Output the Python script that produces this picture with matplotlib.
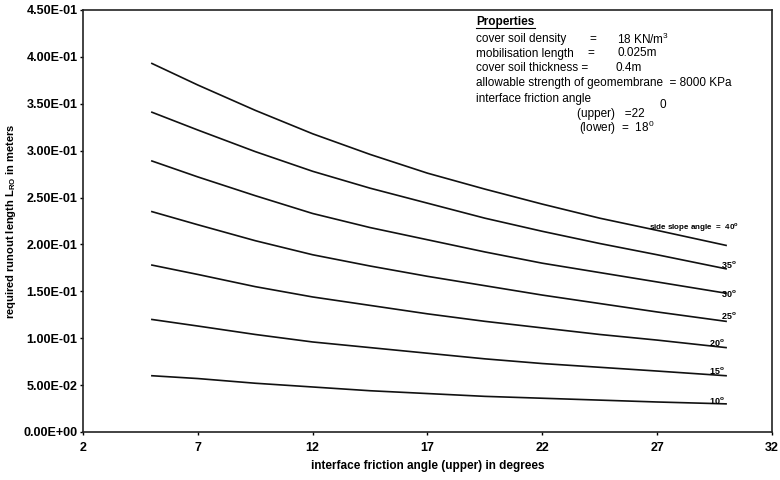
import numpy as np
import matplotlib.pyplot as plt

plt.rcParams['font.family'] = ['Liberation Sans', 'DejaVu Sans']

# interface friction angle (upper), degrees
friction_angle = [5, 7, 9.5, 12, 14.5, 17, 19.5, 22, 24.5, 27, 30]

# required runout length for each side slope angle, meters
runout_40 = [0.393, 0.370, 0.343, 0.318, 0.296, 0.276, 0.259, 0.243, 0.228, 0.215, 0.199]
runout_35 = [0.341, 0.322, 0.299, 0.278, 0.260, 0.244, 0.228, 0.214, 0.201, 0.189, 0.174]
runout_30 = [0.289, 0.272, 0.252, 0.233, 0.218, 0.205, 0.192, 0.180, 0.170, 0.160, 0.148]
runout_25 = [0.235, 0.221, 0.204, 0.189, 0.177, 0.166, 0.156, 0.146, 0.137, 0.128, 0.118]
runout_20 = [0.178, 0.168, 0.155, 0.144, 0.135, 0.126, 0.118, 0.111, 0.104, 0.098, 0.090]
runout_15 = [0.120, 0.113, 0.104, 0.096, 0.090, 0.084, 0.078, 0.073, 0.069, 0.065, 0.060]
runout_10 = [0.060, 0.057, 0.052, 0.048, 0.044, 0.041, 0.038, 0.036, 0.034, 0.032, 0.030]

series = [runout_40, runout_35, runout_30, runout_25, runout_20, runout_15, runout_10]
series_labels = ['side slope angle  =  40$^{\\mathregular{o}}$', '35$^{\\mathregular{o}}$',
                 '30$^{\\mathregular{o}}$', '25$^{\\mathregular{o}}$', '20$^{\\mathregular{o}}$',
                 '15$^{\\mathregular{o}}$', '10$^{\\mathregular{o}}$']

x_ticks = [2, 7, 12, 17, 22, 27, 32]
y_ticks = [0.0, 0.05, 0.10, 0.15, 0.20, 0.25, 0.30, 0.35, 0.40, 0.45]

fig = plt.figure(figsize=(7.8, 4.8), dpi=100)
ax = fig.add_axes([83 / 780, 48 / 480, 689 / 780, 422 / 480])

for values in series:
    ax.plot(friction_angle, values, color='#111111', lw=1.2)

# label offsets in pixels from each curve's last point
offsets = [(-32, 18), (2.5, 4), (2.5, 0), (2.5, 6), (-9.5, 5), (-9.5, 5), (-9.5, 3)]
for values, label, off in zip(series, series_labels, offsets):
    size = 5.8 if label.startswith('side') else 6.5
    ax.annotate(label, xy=(friction_angle[-1], values[-1]), xytext=off,
                textcoords='offset pixels', ha='center', va='center',
                fontsize=size, fontweight='bold')

ax.set_xlim(2, 32)
ax.set_ylim(0, 0.45)
ax.set_xticks(x_ticks)
ax.set_yticks(y_ticks)
ax.set_xticklabels([str(t) for t in x_ticks])
ax.set_yticklabels(['{:.2E}'.format(t) for t in y_ticks])
ax.tick_params(direction='out', length=2.5, width=1, labelsize=9)
ax.tick_params(axis='y', pad=1.5)
ax.tick_params(axis='x', pad=5)
for lab in ax.get_xticklabels() + ax.get_yticklabels():
    lab.set_fontweight('bold')
for sp in ax.spines.values():
    sp.set_linewidth(1.2)
    sp.set_color('#222222')

ax.set_xlabel('interface friction angle (upper) in degrees', fontsize=8.5, fontweight='bold', labelpad=4)
ax.set_ylabel('required runout length L$_{\\mathregular{RO}}$ in meters', fontsize=8,
              fontweight='bold', labelpad=4)

# properties note
def px(x, y):
    return x / 780, 1 - y / 480

fs = 8.5
fig.text(*px(476, 22), 'Properties', fontsize=fs, fontweight='bold', va='center')
fig.add_artist(plt.Line2D([476 / 780, 535 / 780], [1 - 28 / 480, 1 - 28 / 480], color='black', lw=0.8))
rows = [
    (39, 'cover soil density', 589, '=', 617, '18 KN/m$^{\\mathregular{3}}$'),
    (53.5, 'mobilisation length', 587, '=', 617, '0.025m'),
    (68, 'cover soil thickness =', None, '', 615, '0.4m'),
]
for y, left, xe, eq, xv, val in rows:
    fig.text(*px(476, y), left, fontsize=fs, va='center')
    if xe is not None:
        fig.text(*px(xe, y), eq, fontsize=fs, va='center')
    fig.text(*px(xv, y), val, fontsize=fs, va='center')
fig.text(*px(476, 83), 'allowable strength of geomembrane  = 8000 KPa', fontsize=fs, va='center')
fig.text(*px(476, 99), 'interface friction angle', fontsize=fs, va='center')
fig.text(*px(659, 105), '0', fontsize=fs, va='center')
fig.text(*px(577, 114), '(upper)   =22', fontsize=fs, va='center')
fig.text(*px(579, 128), '(lower)  =  18$^{\\mathregular{0}}$', fontsize=fs, va='center')

fig.savefig('out.png', dpi=100)
